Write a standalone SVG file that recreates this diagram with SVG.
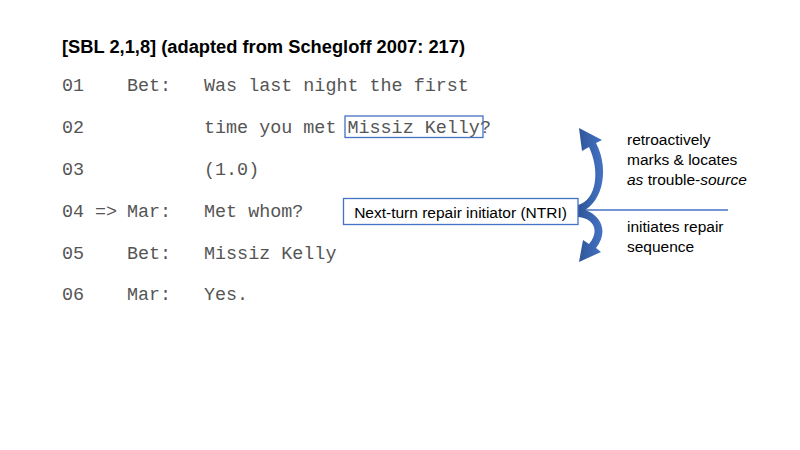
<svg xmlns="http://www.w3.org/2000/svg" width="800" height="450" viewBox="0 0 800 450">
<style>
.title{font-family:"Liberation Sans",Arial,sans-serif;font-weight:bold;font-size:18.3px;fill:#000}
.mono{font-family:"Liberation Mono","Courier New",monospace;font-size:18.4px;fill:#555}
.lbl{font-family:"Liberation Sans",Arial,sans-serif;font-size:15.5px;fill:#000}
.box{fill:#fff;stroke:#4472C4;stroke-width:1.3}
.arrow{fill:url(#g)}
</style>
<defs>
<linearGradient id="g" x1="0" y1="0" x2="1" y2="0">
<stop offset="0" stop-color="#2F5597"/>
<stop offset="1" stop-color="#4472C4"/>
</linearGradient>
</defs>
<rect width="800" height="450" fill="#fff"/>
<text class="title" x="62" y="53">[SBL 2,1,8] (adapted from Schegloff 2007: 217)</text>
<g id="transcript">
<text class="mono" x="62" y="91">01</text>
<text class="mono" x="127" y="91">Bet:</text>
<text class="mono" x="204" y="91">Was last night the first</text>
<text class="mono" x="62" y="133">02</text>
<text class="mono" x="204" y="133">time you met Missiz Kelly?</text>
<text class="mono" x="62" y="175">03</text>
<text class="mono" x="204" y="175">(1.0)</text>
<text class="mono" x="62" y="217">04</text>
<text class="mono" x="95" y="217">=&gt;</text>
<text class="mono" x="127" y="217">Mar:</text>
<text class="mono" x="204" y="217">Met whom?</text>
<text class="mono" x="62" y="259">05</text>
<text class="mono" x="127" y="259">Bet:</text>
<text class="mono" x="204" y="259">Missiz Kelly</text>
<text class="mono" x="62" y="300">06</text>
<text class="mono" x="127" y="300">Mar:</text>
<text class="mono" x="204" y="300">Yes.</text>
</g>
<g id="trouble-source">
<rect x="345" y="116" width="138" height="21.5" fill="none" stroke="#4472C4" stroke-width="1.3"/>
</g>
<g id="connectors">
<line x1="578" y1="210" x2="728" y2="210" stroke="#4472C4" stroke-width="1.3"/>
<path class="arrow" d="M578,213 C601,207 611,172 596,143 L602,140 L579,128 L582,151 L589,147 C600,170 597,200 578,205 Z"/>
<path class="arrow" d="M578,208 C600,212 610,230 596,248 L601,252 L579,262 L583,240 L589,244 C600,231 594,218 578,217 Z"/>
</g>
<g id="ntri">
<rect class="box" x="343.5" y="198.5" width="234.5" height="26"/>
<text class="lbl" x="460.5" y="218" text-anchor="middle">Next-turn repair initiator (NTRI)</text>
</g>
<g id="label-retro">
<text class="lbl" x="627" y="145">retroactively</text>
<text class="lbl" x="627" y="165">marks &amp; locates</text>
<text class="lbl" x="627" y="185"><tspan font-style="italic">as</tspan> trouble-<tspan font-style="italic">source</tspan></text>
</g>
<g id="label-init">
<text class="lbl" x="627" y="232">initiates repair</text>
<text class="lbl" x="627" y="252">sequence</text>
</g>
</svg>
